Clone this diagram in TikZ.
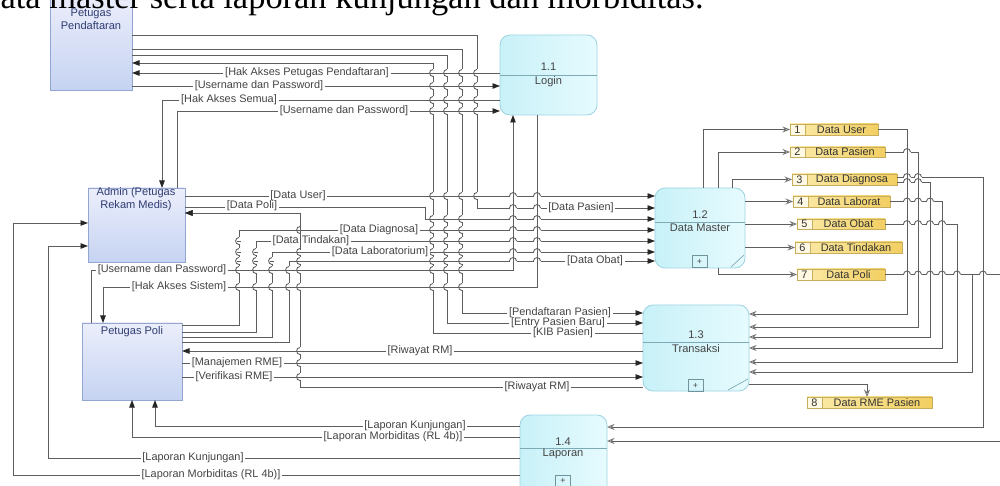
\documentclass[tikz,border=0pt]{standalone}
\usepackage{fontspec}
\setmainfont{Liberation Serif}
\newfontfamily\diafont{Liberation Sans}
\usetikzlibrary{arrows.meta,calc}
\definecolor{linec}{HTML}{5E5E5E}
\definecolor{entb}{HTML}{93A6D2}
\definecolor{enttop}{HTML}{ECEEFB}
\definecolor{entbot}{HTML}{C5D3F2}
\definecolor{procb}{HTML}{9ED4E2}
\definecolor{procl}{HTML}{C8F1F8}
\definecolor{procr}{HTML}{E6FBFE}
\definecolor{storeb}{HTML}{C8AE5C}
\definecolor{storel}{HTML}{FBEBAA}
\definecolor{storer}{HTML}{F2CF62}
\definecolor{numf}{HTML}{FFF8E2}
\definecolor{entt}{HTML}{2E3C72}
\definecolor{labt}{HTML}{444444}
\newcommand\dstore[7]{%
  \node[store, anchor=north west, minimum width={(#4-#2)*0.2mm}, minimum height={(#5-#3)*0.2mm}] (#1) at (#2,#3) {};
  \fill[numf] (#2,#3) rectangle (#2+15,#5);
  \draw[storeb, line width=0.4pt] (#2+15,#3) -- (#2+15,#5);
  \draw[storeb, line width=0.4pt] (#1.north west) rectangle (#1.south east);
  \node[stext] (#1-n) at (#2+7.5,{(#3+#5)/2}) {#6};
  \node[stext] (#1-t) at ({(#2+15+#4)/2},{(#3+#5)/2}) {#7};
}
% hop of a vertical line over a horizontal one
\newcommand\vhop[2]{%
  \fill[white] (#1-1,#2-3.5) rectangle (#1+1,#2+3.5);
  \draw[linec, line width=0.5pt] (#1-1.6,#2) -- (#1+1.6,#2);
  \draw[linec, line width=0.5pt] (#1,#2-3.5) .. controls (#1-4.5,#2-3.5) and (#1-4.5,#2+3.5) .. (#1,#2+3.5);
}
% hop of a horizontal line over a vertical one
\newcommand\hhop[2]{%
  \fill[white] (#1-3.5,#2-1) rectangle (#1+3.5,#2+1);
  \draw[linec, line width=0.5pt] (#1,#2-1.6) -- (#1,#2+1.6);
  \draw[linec, line width=0.5pt] (#1-3.5,#2) .. controls (#1-3.5,#2-4.5) and (#1+3.5,#2-4.5) .. (#1+3.5,#2);
}
\begin{document}
\begin{tikzpicture}[x=0.2mm,y=-0.2mm,
  ent/.style={draw=entb, line width=0.5pt, top color=enttop, bottom color=entbot, inner sep=0pt, outer sep=0pt, anchor=north west},
  proc/.style={draw=procb, line width=0.5pt, left color=procl, right color=procr, rounded corners=2mm, inner sep=0pt, outer sep=0pt, anchor=north west},
  store/.style={left color=storel, right color=storer, inner sep=0pt, outer sep=0pt},
  etext/.style={font=\diafont\fontsize{6.3}{7.2}\selectfont, text=entt, align=center, inner sep=0pt},
  ptext/.style={font=\diafont\fontsize{6.3}{7.2}\selectfont, text=labt, inner sep=0pt},
  stext/.style={font=\diafont\fontsize{6.2}{7}\selectfont, text=black!80, inner sep=0pt},
  lab/.style={font=\diafont\fontsize{6.2}{7}\selectfont, text=labt, fill=white, inner xsep=1pt, inner ysep=0pt, text height=1.5mm, text depth=0.35mm},
  flow/.style={draw=linec, line width=0.5pt, -{Triangle[length=1.5mm,width=1.1mm,color=black!85]}},
  sflow/.style={draw=linec, line width=0.5pt, -{Stealth[open,length=1.5mm,width=1.2mm,color=black!55]}},
  divl/.style={draw=procb!80!black, line width=0.4pt},
  plusbox/.style={draw=procb!70!black, line width=0.4pt, minimum width=3mm, minimum height=2.3mm, inner sep=0pt, font=\diafont\fontsize{5}{5}\selectfont, text=labt}
]
\useasboundingbox (0,0) rectangle (1000,486);
\clip (0,0) rectangle (1000,486);

% external entities
\node[ent, minimum width=16.4mm, minimum height=19mm] (pp) at (50,-5) {};
\node[etext] (pp-t) at (91,19) {Petugas\\Pendaftaran};
\node[ent, minimum width=19.4mm, minimum height=14.8mm] (admin) at (88,188) {};
\node[etext] (admin-t) at (136,199) {Admin (Petugas\\Rekam Medis)};
\node[ent, minimum width=20mm, minimum height=15.4mm] (poli) at (82,323) {};
\node[etext] (poli-t) at (132,332) {Petugas Poli};

% caption line (cut at top), printed over the entity box
\node[anchor=base west, inner sep=0pt, font=\fontsize{19.6}{22}\selectfont] (cap) at (-17,9) {data master serta laporan kunjungan dan morbiditas.};

% processes
\node[proc, minimum width=19.4mm, minimum height=16mm] (login) at (500,35) {};
\draw[divl] (login.west |- 0,75) -- (login.east |- 0,75);
\node[ptext] (login-i) at (548.5,67) {1.1};
\node[ptext] (login-n) at (548.5,82) {Login};

\node[proc, minimum width=18mm, minimum height=16mm] (dm) at (655,188) {};
\draw[divl] (dm.west |- 0,222) -- (dm.east |- 0,222);
\node[ptext] (dm-i) at (700,215) {1.2};
\node[ptext] (dm-n) at (700,228) {Data Master};
\node[plusbox] (dm-p) at (699.5,261.5) {+};
\draw[divl] (731,267) -- (744,255);

\node[proc, minimum width=21.2mm, minimum height=17.2mm] (trans) at (643,305) {};
\draw[divl] (trans.west |- 0,342) -- (trans.east |- 0,342);
\node[ptext] (trans-i) at (696,335) {1.3};
\node[ptext] (trans-n) at (696,349) {Transaksi};
\node[plusbox] (trans-p) at (695.5,385.5) {+};
\draw[divl] (728,390) -- (748,379);

\node[proc, minimum width=17.4mm, minimum height=17mm] (lap) at (520,415) {};
\draw[divl] (lap.west |- 0,448) -- (lap.east |- 0,448);
\node[ptext] (lap-i) at (563,442) {1.4};
\node[ptext] (lap-n) at (563,454) {Laporan};
\node[plusbox] (lap-p) at (563,481) {+};

% data stores
\dstore{s1}{790}{124}{878}{135}{1}{Data User}
\dstore{s2}{790}{147}{885}{157}{2}{Data Pasien}
\dstore{s3}{792}{174}{897}{185}{3}{Data Diagnosa}
\dstore{s4}{793}{196}{890}{207}{4}{Data Laborat}
\dstore{s5}{797}{219}{885}{229}{5}{Data Obat}
\dstore{s6}{795}{242}{902}{253}{6}{Data Tindakan}
\dstore{s7}{797}{269}{885}{280}{7}{Data Poli}
\dstore{s8}{807}{397}{932}{408}{8}{Data RME Pasien}

% ---- flows: Petugas Pendaftaran
\draw[flow] (pp.east |- 0,35) -| (477,208) -- (dm.west |- 0,208);
\draw[flow] (pp.east |- 0,49) -| (462,313) -- (trans.west |- 0,313);
\draw[flow] (pp.east |- 0,55) -| (447,323) -- (trans.west |- 0,323);
\draw[flow] (trans.west |- 0,333) -| (433,63) -- (pp.east |- 0,63);
\draw[flow] (login.west |- 0,73) -- (pp.east |- 0,73);
\draw[flow] (pp.east |- 0,86) -- (login.west |- 0,86);
\draw[flow] (login.west |- 0,100) -| (admin.north -| 162,0);
\draw[flow] (admin.north -| 177,0) |- (login.west |- 0,111);

% ---- flows: Admin
\draw[flow] (admin.east |- 0,196) -- (dm.west |- 0,196);
\draw[flow] (admin.east |- 0,207) -| (425,219) -- (dm.west |- 0,219);
\draw[flow] (lap.west |- 0,458) -| (48,246) -- (admin.west |- 0,246);
\draw[flow] (lap.west |- 0,475) -| (13,223) -- (admin.west |- 0,223);

% ---- flows: Petugas Poli
\draw[flow] (poli.east |- 0,325) -| (239,230) -- (dm.west |- 0,230);
\draw[flow] (poli.east |- 0,332) -| (256,241) -- (dm.west |- 0,241);
\draw[flow] (poli.east |- 0,337) -| (272,252) -- (dm.west |- 0,252);
\draw[flow] (poli.east |- 0,342) -| (289,261) -- (dm.west |- 0,261);
\draw[flow] (poli.north -| 91,0) |- (513,270) -- (login.south -| 513,0);
\draw[flow] (login.south -| 537,0) |- (103,287) -- (poli.north -| 103,0);
\draw[flow] (trans.west |- 0,351) -- (poli.east |- 0,351);
\draw[flow] (poli.east |- 0,363) -- (trans.west |- 0,363);
\draw[flow] (poli.east |- 0,377) -- (trans.west |- 0,377);
\draw[flow] (lap.west |- 0,426) -| (poli.south -| 155,0);
\draw[flow] (lap.west |- 0,437) -| (poli.south -| 132,0);
\draw[flow] (trans.west |- 0,387) -| (300,213) -- (admin.east |- 0,213);

% ---- flows: Data Master to stores
\draw[sflow] (dm.north -| 703,0) |- (s1.west);
\draw[sflow] (dm.north -| 718,0) |- (s2.west);
\draw[sflow] (dm.north -| 732,0) |- (s3.west);
\draw[sflow] (dm.east |- s4.west) -- (s4.west);
\draw[sflow] (dm.east |- s5.west) -- (s5.west);
\draw[sflow] (dm.east |- s6.west) -- (s6.west);
\draw[sflow] (dm.south -| 718,0) |- (s7.west);

% ---- flows: stores to Transaksi / Laporan
\draw[sflow] (s1.east) -| (907,314) -- (trans.east |- 0,314);
\draw[sflow] (s2.east) -| (918,327) -- (trans.east |- 0,327);
\draw[sflow] (s3.east |- 0,182) -| (930,337) -- (trans.east |- 0,337);
\draw[sflow] (s4.east) -| (942,348) -- (trans.east |- 0,348);
\draw[sflow] (s5.east) -| (957,362) -- (trans.east |- 0,362);
\draw[sflow] (s7.east) -| (972,372) -- (trans.east |- 0,372);
\draw[sflow] (s3.east |- 0,177) -| (983,427) -- (lap.east |- 0,427);
\draw[sflow] (s7.east) -| (1010,441) -- (lap.east |- 0,441);
\draw[sflow] (trans.east |- 0,384) -| (s8.north -| 867,0);

% ---- line hops at crossings
\foreach \hx in {433,447,462,477} {\foreach \hy in {73,86,100,111,196} {\vhop{\hx}{\hy}}}
\foreach \hx in {433,447,462} {\foreach \hy in {219,230,241,252,261,270,287} {\vhop{\hx}{\hy}}}
\foreach \hy in {241,252,261,270,287} {\vhop{239}{\hy}}
\foreach \hy in {252,261,270,287} {\vhop{256}{\hy}}
\foreach \hy in {261,270,287} {\vhop{272}{\hy}}
\foreach \hy in {270,287} {\vhop{289}{\hy}}
\foreach \hy in {230,252,261,270,287,351,363,377} {\vhop{300}{\hy}}
\foreach \hx in {513,537} {\foreach \hy in {196,208,219,230,241,252,261} {\hhop{\hx}{\hy}}}
\foreach \hx in {907} {\hhop{\hx}{152}}
\foreach \hx in {907,918} {\hhop{\hx}{177}\hhop{\hx}{182}}
\foreach \hx in {907,918,930} {\hhop{\hx}{201.5}}
\foreach \hx in {907,918,930,942} {\hhop{\hx}{224}}
\foreach \hx in {907,918,930,942,957,983} {\hhop{\hx}{274.5}}

% ---- labels
\node[lab] (l1) at (307,73) {[Hak Akses Petugas Pendaftaran]};
\node[lab] (l2) at (259,86) {[Username dan Password]};
\node[lab] (l3) at (229,100) {[Hak Akses Semua]};
\node[lab] (l4) at (344,111) {[Username dan Password]};
\node[lab] (l5) at (298,196) {[Data User]};
\node[lab] (l6) at (252,206) {[Data Poli]};
\node[lab] (l7) at (379,230) {[Data Diagnosa]};
\node[lab] (l8) at (311,241) {[Data Tindakan]};
\node[lab] (l9) at (380,252) {[Data Laboratorium]};
\node[lab] (l10) at (581,208) {[Data Pasien]};
\node[lab] (l11) at (595,261) {[Data Obat]};
\node[lab] (l12) at (162,270) {[Username dan Password]};
\node[lab] (l13) at (179,287) {[Hak Akses Sistem]};
\node[lab] (l14) at (560,313) {[Pendaftaran Pasien]};
\node[lab] (l15) at (558,323) {[Entry Pasien Baru]};
\node[lab] (l16) at (563,333) {[KIB Pasien]};
\node[lab] (l17) at (420,351) {[Riwayat RM]};
\node[lab] (l18) at (237,363) {[Manajemen RME]};
\node[lab] (l19) at (234,377) {[Verifikasi RME]};
\node[lab] (l20) at (537,387) {[Riwayat RM]};
\node[lab] (l21) at (415,426) {[Laporan Kunjungan]};
\node[lab] (l22) at (393,437) {[Laporan Morbiditas (RL 4b)]};
\node[lab] (l23) at (193,458) {[Laporan Kunjungan]};
\node[lab] (l24) at (211,475) {[Laporan Morbiditas (RL 4b)]};

% segments kept visible above the labels
\draw[flow] (300,213) -- (admin.east |- 0,213);
\draw[linec, line width=0.5pt] (300,213) -- (300,250);
\end{tikzpicture}
\end{document}
